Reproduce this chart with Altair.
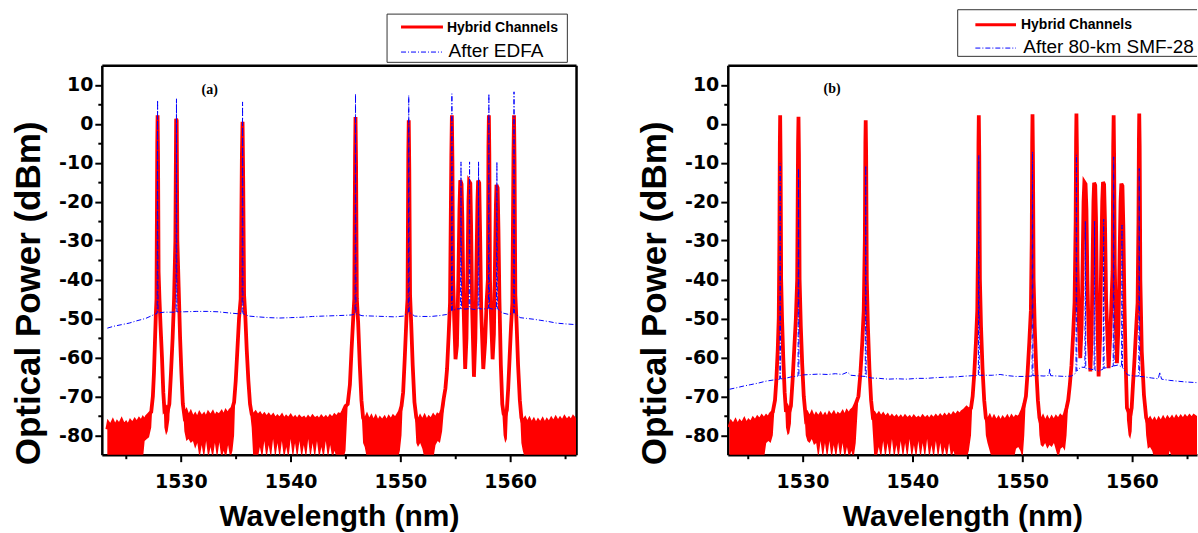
import altair as alt
import pandas as pd

# ---------------- data ----------------
# (wavelength nm, upper envelope dBm, lower envelope dBm) of the red trace, panel (a)
LEFT_RED = [
    (1523.30, -78.5, -86), (1523.40, -77.0, -86), (1523.60, -77.8, -86), (1523.80, -76.6, -86),
    (1524.00, -77.9, -86), (1524.20, -76.8, -86), (1524.40, -77.5, -86), (1524.60, -76.3, -86),
    (1524.80, -77.6, -86), (1525.00, -76.9, -86), (1525.20, -77.8, -86), (1525.40, -76.5, -86),
    (1525.60, -77.2, -86), (1525.80, -76.2, -86), (1526.00, -77.0, -86), (1526.20, -76.0, -86),
    (1526.40, -76.7, -86), (1526.55, -75.8, -86), (1526.70, -76.4, -81.5), (1526.90, -75.2, -81.0),
    (1527.10, -74.6, -80.5), (1527.30, -74.0, -78.0),
    (1527.45, -70.0, -70.0), (1527.55, -64.0, -64.0), (1527.65, -55.0, -55.0), (1527.72, -49.0, -49.0),
    (1527.78, -45.0, -45.0), (1527.85, -5.0, -5.0), (1527.88, 2.2, 2.2), (1527.92, -8.0, -8.0),
    (1527.97, -38.0, -38.0), (1528.05, -45.0, -45.0), (1528.15, -52.0, -52.0), (1528.28, -60.0, -60.0),
    (1528.40, -69.0, -69.0), (1528.50, -73.5, -78.0), (1528.65, -73.0, -80.0), (1528.80, -73.8, -79.0),
    (1528.95, -72.0, -76.0),
    (1529.10, -64.0, -64.0), (1529.25, -55.0, -55.0), (1529.38, -45.0, -45.0), (1529.50, -30.0, -30.0),
    (1529.57, 1.3, 1.3), (1529.62, 0.8, 0.8), (1529.68, -30.0, -30.0), (1529.80, -42.0, -42.0),
    (1529.93, -55.0, -55.0), (1530.05, -64.0, -64.0), (1530.18, -72.0, -72.0), (1530.32, -75.0, -79.0),
    (1530.50, -74.0, -81.5), (1530.70, -75.6, -81.0), (1530.90, -74.4, -82.0), (1531.10, -75.8, -81.5),
    (1531.30, -74.9, -83.5), (1531.50, -76.0, -82.0), (1531.70, -74.6, -86), (1531.90, -75.5, -82.5),
    (1532.10, -74.8, -86), (1532.30, -75.9, -81.5), (1532.50, -74.5, -86), (1532.70, -75.3, -83.0),
    (1532.90, -74.4, -86), (1533.10, -75.7, -82.0), (1533.30, -74.6, -86), (1533.50, -75.0, -81.8),
    (1533.70, -74.2, -86), (1533.90, -75.4, -84.0), (1534.10, -74.0, -86), (1534.30, -74.8, -82.5),
    (1534.50, -73.6, -86), (1534.70, -73.0, -84.0), (1534.85, -71.5, -80.0),
    (1535.00, -66.0, -66.0), (1535.15, -58.0, -58.0), (1535.30, -50.0, -50.0), (1535.45, -45.0, -45.0),
    (1535.56, -8.0, -8.0), (1535.62, 0.5, 0.5), (1535.68, -15.0, -15.0), (1535.76, -44.0, -44.0),
    (1535.88, -50.0, -50.0), (1536.00, -58.0, -58.0), (1536.15, -66.0, -66.0), (1536.30, -72.0, -74.0),
    (1536.45, -74.5, -78.0),
    (1536.60, -75.0, -86), (1536.80, -74.3, -86), (1537.00, -75.2, -86), (1537.20, -74.6, -83.0),
    (1537.40, -75.5, -86), (1537.60, -74.8, -81.5), (1537.80, -75.6, -86), (1538.00, -74.9, -82.5),
    (1538.20, -75.7, -86), (1538.40, -75.0, -81.0), (1538.60, -76.0, -86), (1538.80, -75.3, -82.0),
    (1539.00, -75.9, -86), (1539.20, -75.1, -81.5), (1539.40, -76.2, -86), (1539.60, -75.4, -83.0),
    (1539.80, -76.0, -86), (1540.00, -75.2, -81.0), (1540.20, -76.1, -86), (1540.40, -75.5, -82.0),
    (1540.60, -76.3, -86), (1540.80, -75.4, -81.5), (1541.00, -76.0, -86), (1541.20, -75.6, -82.5),
    (1541.40, -76.4, -86), (1541.60, -75.5, -81.0), (1541.80, -76.2, -86), (1542.00, -75.3, -82.0),
    (1542.20, -76.0, -86), (1542.40, -75.6, -81.5), (1542.60, -76.3, -86), (1542.80, -75.4, -83.0),
    (1543.00, -76.1, -86), (1543.20, -75.5, -81.5), (1543.40, -76.2, -86), (1543.60, -75.3, -82.5),
    (1543.80, -75.9, -86), (1544.00, -75.0, -84.0), (1544.20, -75.6, -86), (1544.40, -74.7, -86),
    (1544.60, -74.9, -86), (1544.80, -73.8, -86), (1545.00, -72.5, -84.0),
    (1545.20, -72.0, -72.0), (1545.40, -67.0, -67.0), (1545.55, -58.0, -58.0), (1545.70, -50.0, -50.0),
    (1545.80, -45.0, -45.0), (1545.87, -8.0, -8.0), (1545.91, 1.7, 1.7), (1545.96, -10.0, -10.0),
    (1546.03, -45.0, -45.0), (1546.15, -51.0, -51.0), (1546.30, -62.0, -62.0), (1546.45, -71.0, -73.0),
    (1546.60, -75.5, -82.0),
    (1546.75, -76.5, -83.0), (1546.95, -75.2, -86), (1547.15, -76.6, -86), (1547.35, -75.5, -86),
    (1547.55, -76.8, -86), (1547.75, -75.6, -86), (1547.95, -76.9, -86), (1548.15, -75.8, -86),
    (1548.35, -76.5, -86), (1548.55, -75.7, -86), (1548.75, -76.8, -86), (1548.95, -75.6, -86),
    (1549.15, -76.4, -86), (1549.35, -75.3, -86), (1549.55, -75.9, -86), (1549.75, -74.9, -86),
    (1549.95, -74.0, -84.0), (1550.10, -72.5, -80.0),
    (1550.25, -69.0, -69.0), (1550.40, -60.0, -60.0), (1550.55, -50.0, -50.0), (1550.65, -45.0, -45.0),
    (1550.72, -8.0, -8.0), (1550.76, 0.9, 0.9), (1550.81, -12.0, -12.0), (1550.88, -44.0, -44.0),
    (1550.98, -51.0, -51.0), (1551.12, -62.0, -62.0), (1551.28, -71.5, -73.0), (1551.45, -75.5, -82.0),
    (1551.60, -76.8, -83.0), (1551.80, -75.5, -82.0), (1552.00, -76.6, -83.5), (1552.20, -75.4, -86),
    (1552.40, -76.7, -86), (1552.60, -75.6, -86), (1552.80, -76.2, -86), (1553.00, -75.1, -86),
    (1553.20, -75.9, -82.5), (1553.40, -74.8, -81.5), (1553.60, -75.2, -82.0), (1553.80, -73.5, -79.0),
    (1553.95, -70.5, -74.0),
    (1554.10, -68.0, -68.0), (1554.25, -63.0, -63.0), (1554.40, -54.0, -54.0), (1554.52, -46.0, -46.0),
    (1554.64, -8.0, -8.0), (1554.69, 2.2, 2.2), (1554.74, -10.0, -10.0), (1554.80, -40.0, -40.0),
    (1554.90, -50.0, -50.0), (1555.02, -60.5, -60.5),
    (1555.15, -57.0, -57.0), (1555.28, -40.0, -40.0), (1555.38, -22.0, -22.0), (1555.45, -14.5, -14.5),
    (1555.57, -15.5, -15.5), (1555.64, -24.0, -24.0), (1555.74, -45.0, -45.0), (1555.90, -63.0, -63.0),
    (1556.02, -55.0, -55.0), (1556.12, -36.0, -36.0), (1556.20, -20.0, -20.0), (1556.26, -14.8, -14.8),
    (1556.37, -15.3, -15.3), (1556.44, -26.0, -26.0), (1556.54, -48.0, -48.0), (1556.70, -65.0, -65.0),
    (1556.83, -55.0, -55.0), (1556.93, -36.0, -36.0), (1557.02, -20.0, -20.0), (1557.08, -14.6, -14.6),
    (1557.18, -15.2, -15.2), (1557.26, -28.0, -28.0), (1557.36, -48.0, -48.0), (1557.55, -63.0, -63.0),
    (1557.72, -56.0, -56.0), (1557.85, -46.0, -46.0), (1557.97, -40.0, -40.0), (1558.02, -6.0, -6.0),
    (1558.06, 2.2, 2.2), (1558.10, -8.0, -8.0), (1558.16, -40.0, -40.0), (1558.26, -50.0, -50.0),
    (1558.40, -60.5, -60.5),
    (1558.52, -54.0, -54.0), (1558.62, -35.0, -35.0), (1558.70, -21.0, -21.0), (1558.75, -15.7, -15.7),
    (1558.86, -16.5, -16.5), (1558.93, -27.0, -27.0), (1559.02, -45.0, -45.0), (1559.15, -62.0, -62.0),
    (1559.28, -72.0, -74.0), (1559.40, -74.5, -80.0), (1559.55, -75.0, -82.0), (1559.70, -73.5, -81.0),
    (1559.82, -68.0, -72.0),
    (1559.95, -60.0, -60.0), (1560.08, -52.0, -52.0), (1560.20, -46.0, -46.0), (1560.30, -8.0, -8.0),
    (1560.35, 2.2, 2.2), (1560.40, -10.0, -10.0), (1560.47, -44.0, -44.0), (1560.58, -51.0, -51.0),
    (1560.72, -62.0, -62.0), (1560.88, -71.0, -73.0), (1561.02, -75.5, -82.0),
    (1561.15, -76.8, -84.0), (1561.35, -75.9, -86), (1561.55, -77.2, -86), (1561.75, -76.1, -86),
    (1561.95, -77.3, -86), (1562.15, -76.3, -86), (1562.35, -77.5, -86), (1562.55, -76.4, -86),
    (1562.75, -77.2, -86), (1562.95, -76.2, -86), (1563.15, -77.4, -86), (1563.35, -76.3, -86),
    (1563.55, -77.1, -86), (1563.75, -76.0, -86), (1563.95, -76.9, -86), (1564.15, -75.8, -86),
    (1564.35, -76.8, -86), (1564.55, -75.9, -86), (1564.75, -76.7, -86), (1564.95, -75.6, -86),
    (1565.15, -76.5, -86), (1565.35, -75.8, -86), (1565.55, -76.6, -86), (1565.75, -75.5, -86),
    (1566.00, -76.3, -86),
]

# (wavelength nm, dBm) of the blue trace "After EDFA", panel (a)
LEFT_BLUE = [
    (1523.30, -52.5), (1523.90, -52.0), (1524.60, -51.6), (1525.30, -51.2), (1526.00, -50.6),
    (1526.80, -50.0), (1527.50, -49.1), (1527.84, -48.7), (1527.88, 6.0), (1527.92, -48.6),
    (1528.50, -48.4), (1529.10, -48.4), (1529.56, -48.4), (1529.60, 6.4), (1529.64, -48.3),
    (1530.30, -48.3), (1531.40, -48.2), (1532.40, -48.2), (1533.40, -48.3), (1534.40, -48.6),
    (1535.20, -48.8), (1535.58, -48.7), (1535.62, 5.6), (1535.66, -48.8), (1536.20, -49.4),
    (1537.00, -49.6), (1538.00, -49.8), (1539.00, -49.9), (1540.00, -49.8), (1541.00, -49.7),
    (1542.00, -49.5), (1543.00, -49.4), (1544.00, -49.3), (1545.00, -49.2), (1545.60, -49.1),
    (1545.87, -48.8), (1545.91, 7.7), (1545.95, -48.8), (1546.50, -49.3), (1547.50, -49.4),
    (1548.50, -49.5), (1549.50, -49.6), (1550.30, -49.4), (1550.72, -48.4), (1550.76, 7.3),
    (1550.80, -48.4), (1551.30, -49.4), (1552.00, -49.5), (1552.80, -49.5), (1553.50, -49.3),
    (1554.20, -49.0), (1554.65, -48.0), (1554.69, 7.7), (1554.73, -48.0), (1555.10, -47.6),
    (1555.48, -47.5), (1555.52, -9.8), (1555.56, -47.5), (1555.90, -47.6), (1556.26, -47.5),
    (1556.30, -9.8), (1556.34, -47.5), (1556.70, -47.7), (1557.08, -47.5), (1557.12, -9.8),
    (1557.16, -47.5), (1557.60, -47.6), (1558.02, -47.4), (1558.06, 7.7), (1558.10, -47.4),
    (1558.40, -47.6), (1558.75, -47.5), (1558.79, -9.8), (1558.83, -47.5), (1559.30, -48.6),
    (1559.90, -49.0), (1560.31, -48.6), (1560.35, 8.2), (1560.39, -48.6), (1560.90, -49.8),
    (1561.50, -50.0), (1562.10, -50.2), (1562.80, -50.5), (1563.50, -50.8), (1564.20, -51.2),
    (1565.00, -51.4), (1566.00, -51.6),
]

# (wavelength nm, upper envelope dBm, lower envelope dBm) of the red trace, panel (b)
RIGHT_RED = [
    (1523.34, -78.0, -86), (1523.50, -76.8, -86), (1523.70, -77.6, -86), (1523.90, -76.5, -86),
    (1524.10, -77.7, -86), (1524.30, -76.6, -86), (1524.50, -77.3, -86), (1524.70, -76.2, -86),
    (1524.90, -77.4, -86), (1525.10, -76.4, -86), (1525.30, -77.0, -86), (1525.50, -75.9, -86),
    (1525.70, -76.6, -86), (1525.90, -75.6, -86), (1526.10, -76.3, -86), (1526.30, -75.3, -86),
    (1526.50, -76.0, -86), (1526.70, -75.2, -82.0), (1526.90, -75.8, -81.5), (1527.10, -74.6, -82.0),
    (1527.30, -74.0, -80.0),
    (1527.50, -71.0, -71.0), (1527.62, -66.0, -66.0), (1527.75, -58.0, -58.0), (1527.84, -50.0, -50.0),
    (1527.90, -30.0, -30.0), (1527.94, -5.0, -5.0), (1527.97, 2.2, 2.2), (1528.01, -10.0, -10.0),
    (1528.06, -40.0, -40.0), (1528.14, -50.0, -50.0), (1528.25, -60.0, -60.0), (1528.38, -69.0, -69.0),
    (1528.50, -74.0, -78.0), (1528.65, -73.0, -80.0), (1528.80, -74.0, -79.5), (1528.95, -72.5, -77.0),
    (1529.10, -66.0, -66.0), (1529.25, -58.0, -58.0), (1529.40, -50.0, -50.0), (1529.52, -40.0, -40.0),
    (1529.60, -5.0, -5.0), (1529.64, 1.8, 1.8), (1529.68, -8.0, -8.0), (1529.74, -40.0, -40.0),
    (1529.85, -52.0, -52.0), (1529.98, -62.0, -62.0), (1530.12, -70.0, -71.0), (1530.30, -75.5, -80.0),
    (1530.45, -74.6, -81.5), (1530.65, -75.8, -82.0), (1530.85, -74.5, -81.0), (1531.05, -75.9, -82.5),
    (1531.25, -74.8, -82.0), (1531.45, -75.6, -86), (1531.65, -74.7, -81.5), (1531.85, -75.8, -86),
    (1532.05, -74.9, -82.0), (1532.25, -76.0, -86), (1532.45, -74.6, -81.5), (1532.65, -75.4, -86),
    (1532.85, -74.5, -82.5), (1533.05, -75.7, -86), (1533.25, -74.7, -81.8), (1533.45, -75.2, -86),
    (1533.65, -74.3, -82.0), (1533.85, -75.5, -86), (1534.05, -74.1, -83.0), (1534.25, -74.9, -86),
    (1534.45, -73.7, -84.0), (1534.65, -73.2, -86), (1534.85, -72.0, -82.0),
    (1535.10, -70.0, -70.0), (1535.28, -64.0, -64.0), (1535.45, -56.0, -56.0), (1535.58, -48.0, -48.0),
    (1535.68, -30.0, -30.0), (1535.73, -5.0, -5.0), (1535.76, 0.9, 0.9), (1535.80, -8.0, -8.0),
    (1535.86, -40.0, -40.0), (1535.96, -52.0, -52.0), (1536.10, -63.0, -63.0), (1536.25, -71.0, -72.0),
    (1536.40, -75.0, -79.0),
    (1536.55, -74.5, -86), (1536.75, -75.4, -86), (1536.95, -74.6, -83.0), (1537.15, -75.6, -86),
    (1537.35, -74.8, -81.5), (1537.55, -75.7, -86), (1537.75, -75.0, -82.0), (1537.95, -76.0, -86),
    (1538.15, -75.2, -81.0), (1538.35, -75.9, -86), (1538.55, -75.3, -82.5), (1538.75, -76.1, -86),
    (1538.95, -75.4, -81.5), (1539.15, -76.2, -86), (1539.35, -75.3, -82.0), (1539.55, -76.0, -86),
    (1539.75, -75.5, -81.0), (1539.95, -76.3, -86), (1540.15, -75.4, -82.5), (1540.35, -76.1, -86),
    (1540.55, -75.6, -81.5), (1540.75, -76.2, -86), (1540.95, -75.3, -82.0), (1541.15, -76.0, -86),
    (1541.35, -75.5, -81.0), (1541.55, -76.3, -86), (1541.75, -75.4, -82.5), (1541.95, -76.0, -86),
    (1542.15, -75.2, -81.5), (1542.35, -75.9, -86), (1542.55, -75.1, -82.0), (1542.75, -75.8, -86),
    (1542.95, -75.0, -83.0), (1543.15, -75.7, -86), (1543.35, -74.9, -82.0), (1543.55, -75.5, -86),
    (1543.75, -74.6, -84.0), (1543.95, -75.2, -86), (1544.15, -74.4, -86), (1544.35, -74.9, -86),
    (1544.55, -74.0, -86), (1544.75, -73.6, -86), (1544.95, -73.0, -86), (1545.15, -73.5, -84.0),
    (1545.35, -73.0, -80.0),
    (1545.50, -70.0, -70.0), (1545.65, -64.0, -64.0), (1545.80, -56.0, -56.0), (1545.92, -48.0, -48.0),
    (1545.99, -30.0, -30.0), (1546.03, -5.0, -5.0), (1546.06, 2.2, 2.2), (1546.10, -8.0, -8.0),
    (1546.16, -40.0, -40.0), (1546.26, -52.0, -52.0), (1546.40, -63.0, -63.0), (1546.55, -71.0, -72.0),
    (1546.70, -75.5, -80.0),
    (1546.85, -76.5, -82.0), (1547.05, -75.4, -84.0), (1547.25, -76.8, -86), (1547.45, -75.6, -86),
    (1547.65, -76.7, -86), (1547.85, -75.8, -86), (1548.05, -76.9, -86), (1548.25, -75.7, -86),
    (1548.45, -76.4, -86), (1548.65, -75.5, -86), (1548.85, -76.6, -86), (1549.05, -75.4, -86),
    (1549.25, -76.2, -86), (1549.45, -75.3, -83.5), (1549.65, -75.6, -83.0), (1549.85, -74.8, -84.0),
    (1550.05, -73.5, -86), (1550.20, -72.0, -80.0),
    (1550.35, -70.0, -70.0), (1550.50, -64.0, -64.0), (1550.66, -56.0, -56.0), (1550.80, -48.0, -48.0),
    (1550.88, -30.0, -30.0), (1550.92, -5.0, -5.0), (1550.95, 2.4, 2.4), (1550.99, -8.0, -8.0),
    (1551.05, -40.0, -40.0), (1551.15, -52.0, -52.0), (1551.29, -63.0, -63.0), (1551.44, -71.0, -72.0),
    (1551.58, -75.5, -80.0),
    (1551.70, -76.8, -82.5), (1551.90, -75.6, -83.0), (1552.10, -77.0, -82.0), (1552.30, -75.8, -83.5),
    (1552.50, -76.9, -82.5), (1552.70, -75.7, -83.0), (1552.90, -76.6, -82.0), (1553.10, -75.5, -84.0),
    (1553.30, -76.2, -86), (1553.50, -75.2, -83.5), (1553.70, -75.8, -83.0), (1553.90, -74.6, -84.0),
    (1554.05, -73.0, -80.0),
    (1554.20, -71.0, -72.0), (1554.35, -67.0, -67.0), (1554.50, -62.0, -62.0), (1554.65, -54.0, -54.0),
    (1554.78, -46.0, -46.0), (1554.88, -25.0, -25.0), (1554.92, -4.0, -4.0), (1554.95, 2.6, 2.6),
    (1554.99, -6.0, -6.0), (1555.05, -35.0, -35.0), (1555.15, -50.0, -50.0), (1555.30, -60.2, -60.2),
    (1555.42, -52.0, -52.0), (1555.52, -35.0, -35.0), (1555.60, -20.0, -20.0), (1555.67, -15.0, -15.0),
    (1555.78, -15.5, -15.5), (1555.86, -22.0, -22.0), (1555.95, -40.0, -40.0), (1556.07, -55.0, -55.0),
    (1556.22, -63.6, -63.6),
    (1556.33, -55.0, -55.0), (1556.42, -36.0, -36.0), (1556.50, -20.0, -20.0), (1556.56, -15.2, -15.2),
    (1556.66, -15.8, -15.8), (1556.73, -24.0, -24.0), (1556.82, -45.0, -45.0), (1556.97, -64.9, -64.9),
    (1557.10, -55.0, -55.0), (1557.20, -36.0, -36.0), (1557.30, -20.0, -20.0), (1557.37, -15.0, -15.0),
    (1557.47, -15.6, -15.6), (1557.55, -25.0, -25.0), (1557.65, -45.0, -45.0), (1557.88, -62.8, -62.8),
    (1558.02, -55.0, -55.0), (1558.14, -46.0, -46.0), (1558.24, -38.0, -38.0), (1558.30, -6.0, -6.0),
    (1558.34, 2.2, 2.2), (1558.38, -8.0, -8.0), (1558.44, -36.0, -36.0), (1558.53, -50.0, -50.0),
    (1558.64, -61.5, -61.5),
    (1558.78, -52.0, -52.0), (1558.88, -34.0, -34.0), (1558.97, -20.0, -20.0), (1559.04, -15.4, -15.4),
    (1559.14, -16.0, -16.0), (1559.22, -26.0, -26.0), (1559.32, -46.0, -46.0), (1559.45, -63.0, -63.0),
    (1559.55, -73.0, -76.0), (1559.70, -74.0, -80.0), (1559.85, -75.0, -81.0), (1559.98, -73.0, -79.0),
    (1560.10, -67.0, -70.0),
    (1560.25, -60.0, -60.0), (1560.40, -52.0, -52.0), (1560.52, -46.0, -46.0), (1560.60, -25.0, -25.0),
    (1560.64, -4.0, -4.0), (1560.67, 2.6, 2.6), (1560.71, -6.0, -6.0), (1560.77, -40.0, -40.0),
    (1560.90, -58.5, -58.5), (1561.10, -69.7, -70.0), (1561.30, -75.5, -80.0),
    (1561.45, -76.8, -83.5), (1561.65, -75.9, -83.0), (1561.85, -77.0, -84.0), (1562.05, -76.1, -86),
    (1562.25, -77.2, -86), (1562.45, -76.0, -86), (1562.65, -76.9, -86), (1562.85, -75.8, -86),
    (1563.05, -76.8, -86), (1563.25, -75.7, -86), (1563.45, -76.5, -84.0), (1563.65, -75.6, -86),
    (1563.85, -76.6, -86), (1564.05, -75.5, -86), (1564.25, -76.3, -86), (1564.45, -75.4, -86),
    (1564.65, -76.2, -86), (1564.85, -75.3, -86), (1565.05, -76.0, -86), (1565.25, -75.2, -86),
    (1565.45, -75.9, -86), (1565.65, -75.1, -86), (1565.95, -75.7, -86),
]

# (wavelength nm, dBm) of the blue trace "After 80-km SMF-28", panel (b)
RIGHT_BLUE = [
    (1523.35, -68.2), (1524.00, -67.8), (1524.60, -67.4), (1525.30, -67.0), (1526.00, -66.6),
    (1526.70, -66.1), (1527.40, -65.8), (1527.93, -65.6), (1527.97, -10.2), (1528.01, -65.5),
    (1528.30, -65.5), (1529.00, -65.0), (1529.60, -64.8), (1529.64, -11.5), (1529.68, -64.7),
    (1530.10, -64.5), (1530.80, -64.4), (1531.50, -64.3), (1532.30, -64.4), (1533.00, -64.2),
    (1533.60, -64.4), (1534.10, -63.8), (1534.40, -64.6), (1535.20, -64.8), (1535.72, -64.9),
    (1535.76, -10.8), (1535.80, -65.0), (1536.30, -65.3), (1537.00, -65.4), (1537.80, -65.6),
    (1538.60, -65.5), (1539.50, -65.6), (1540.40, -65.4), (1541.30, -65.4), (1542.20, -65.2),
    (1543.10, -65.1), (1544.00, -65.0), (1544.90, -64.8), (1545.60, -64.7), (1546.02, -64.6),
    (1546.06, -8.1), (1546.10, -64.6), (1546.60, -64.6), (1547.30, -64.6), (1548.00, -64.4),
    (1548.70, -64.7), (1549.40, -64.9), (1550.10, -64.9), (1550.91, -64.8), (1550.95, -7.2),
    (1550.99, -64.7), (1551.40, -64.7), (1552.00, -64.8), (1552.45, -64.6), (1552.52, -62.9),
    (1552.60, -64.7), (1553.20, -64.8), (1553.90, -64.9), (1554.50, -64.8), (1554.91, -64.0),
    (1554.95, -8.0), (1554.99, -63.5), (1555.35, -62.5), (1555.72, -62.6), (1555.76, -25.0),
    (1555.80, -62.8), (1556.20, -63.0), (1556.56, -63.2), (1556.60, -25.0), (1556.64, -63.3),
    (1557.00, -63.5), (1557.39, -63.0), (1557.43, -24.5), (1557.47, -62.8), (1557.90, -62.5),
    (1558.30, -62.3), (1558.34, -8.5), (1558.38, -62.2), (1558.70, -62.0), (1559.06, -62.4),
    (1559.10, -26.0), (1559.14, -62.6), (1559.60, -64.5), (1560.20, -64.8), (1560.63, -64.8),
    (1560.67, -11.5), (1560.71, -64.9), (1561.10, -65.0), (1561.80, -65.3), (1562.40, -65.5),
    (1562.55, -63.8), (1562.70, -65.6), (1563.40, -65.9), (1564.10, -66.1), (1564.80, -66.3),
    (1565.93, -66.5),
]

X_TICKS = [1525, 1530, 1535, 1540, 1545, 1550, 1555, 1560, 1565]
Y_TICKS = [-80, -75, -70, -65, -60, -55, -50, -45, -40, -35, -30, -25, -20, -15, -10, -5, 0, 5, 10]
Y_DOMAIN = [-85, 15]
LEFT_X_DOMAIN = [1522.8, 1566.0]
RIGHT_X_DOMAIN = [1523.2, 1565.93]
LEGEND_A = ["Hybrid Channels", "After EDFA"]
LEGEND_B = ["Hybrid Channels", "After 80-km SMF-28"]
PANEL_LABELS = ["(a)", "(b)"]
X_TITLE = "Wavelength (nm)"
Y_TITLE = "Optical Power (dBm)"

# ---------------- styling ----------------
RED = "#ff0000"
BLUE = "#0000ff"
DASH = [5, 2, 1, 2]
LABEL_EXPR = "datum.value % 10 == 0 ? '' + datum.value : ''"
TICK_SIZE = {"condition": {"test": "datum.value % 10 != 0", "value": 4}, "value": 7}


def x_axis():
    return alt.Axis(values=X_TICKS, labelExpr=LABEL_EXPR, tickSize=TICK_SIZE, tickWidth=2,
                    tickColor="black", domainColor="black", domainWidth=2.5, grid=False,
                    labelFont="DejaVu Sans", labelFontWeight="bold", labelFontSize=19,
                    labelColor="black", labelPadding=11, labelFlush=False, labelOverlap=False,
                    title=X_TITLE, titleFont="Liberation Sans", titleFontSize=30,
                    titleFontWeight="bold", titleColor="black", titleBaseline="middle", titleY=62)


def y_axis():
    return alt.Axis(values=Y_TICKS, labelExpr=LABEL_EXPR, tickSize=TICK_SIZE, tickWidth=2,
                    tickColor="black", domainColor="black", domainWidth=2.5, grid=False,
                    labelFont="DejaVu Sans", labelFontWeight="bold", labelFontSize=19,
                    labelColor="black", labelPadding=2, labelFlush=False, labelOverlap=False,
                    title=Y_TITLE, titleFont="Liberation Sans", titleFontSize=35,
                    titleFontWeight="bold", titleColor="black", titleBaseline="middle",
                    titleX=-73, titleY=228)


def frame_axis(orient):
    return alt.Axis(orient=orient, labels=False, ticks=False, grid=False, domainColor="black",
                    domainWidth=2.5, title="")


def one(text):
    return pd.DataFrame({"t": [text]})


def panel(red_rows, blue_rows, xdom, width, legend, geo, label, full_frame):
    red_df = pd.DataFrame(red_rows, columns=["lam", "u", "l"]).sort_values("lam")
    blue_df = pd.DataFrame(blue_rows, columns=["lam", "v"]).sort_values("lam")
    xs = alt.Scale(domain=xdom, nice=False, zero=False)
    ys = alt.Scale(domain=Y_DOMAIN, nice=False, zero=False)

    area = alt.Chart(red_df).mark_area(color=RED, clip=True, opacity=1).encode(
        x=alt.X("lam:Q", scale=xs, axis=x_axis()),
        y=alt.Y("u:Q", scale=ys, axis=y_axis()),
        y2="l:Q",
    )
    line = alt.Chart(red_df).mark_line(color=RED, strokeWidth=3.8, clip=True).encode(
        x=alt.X("lam:Q", scale=xs, axis=None),
        y=alt.Y("u:Q", scale=ys, axis=None),
    )
    if full_frame:
        by = alt.Y("v:Q", scale=ys, axis=frame_axis("right"))
    else:
        by = alt.Y("v:Q", scale=ys, axis=None)
    blue = alt.Chart(blue_df).mark_line(color=BLUE, strokeWidth=1, strokeDash=DASH, clip=True).encode(
        x=alt.X("lam:Q", scale=xs, axis=frame_axis("top")),
        y=by,
    )

    bx0, bx1, by0, by1 = geo["box"]
    layers = [area, line, blue]
    layers.append(alt.Chart(one("box")).mark_rect(fill="white", strokeWidth=0).encode(
        x=alt.value(bx0), x2=alt.value(bx1), y=alt.value(by0), y2=alt.value(by1)))
    edge = dict(color="#333333", strokeWidth=1)
    layers.append(alt.Chart(one("e")).mark_rule(**edge).encode(
        x=alt.value(bx0), x2=alt.value(bx1), y=alt.value(by0)))
    layers.append(alt.Chart(one("e")).mark_rule(**edge).encode(
        x=alt.value(bx0), x2=alt.value(bx1), y=alt.value(by1)))
    layers.append(alt.Chart(one("e")).mark_rule(**edge).encode(
        x=alt.value(bx0), y=alt.value(by0), y2=alt.value(by1)))
    if full_frame:
        layers.append(alt.Chart(one("e")).mark_rule(**edge).encode(
            x=alt.value(bx1), y=alt.value(by0), y2=alt.value(by1)))

    rx0, rx1, ry = geo["red"]
    layers.append(alt.Chart(one("r")).mark_rule(color=RED, strokeWidth=3).encode(
        x=alt.value(rx0), x2=alt.value(rx1), y=alt.value(ry)))
    qx0, qx1, qy = geo["blue"]
    layers.append(alt.Chart(one("b")).mark_rule(color=BLUE, strokeWidth=1, strokeDash=DASH).encode(
        x=alt.value(qx0), x2=alt.value(qx1), y=alt.value(qy)))

    t1x, t1y = geo["t1"]
    layers.append(alt.Chart(one(legend[0])).mark_text(
        align="left", baseline="middle", font="Liberation Sans", fontWeight="bold",
        fontSize=14, color="black").encode(x=alt.value(t1x), y=alt.value(t1y), text="t:N"))
    t2x, t2y = geo["t2"]
    layers.append(alt.Chart(one(legend[1])).mark_text(
        align="left", baseline="middle", font="Liberation Sans", fontWeight="normal",
        fontSize=19, color="black").encode(x=alt.value(t2x), y=alt.value(t2y), text="t:N"))
    lx, ly = geo["label"]
    layers.append(alt.Chart(one(label)).mark_text(
        align="center", baseline="middle", font="Liberation Serif", fontWeight="bold",
        fontSize=14, color="black").encode(x=alt.value(lx), y=alt.value(ly), text="t:N"))

    return alt.layer(*layers).resolve_axis(x="independent", y="independent").properties(
        width=width, height=390)


GEO_A = {"box": (285.7, 466.3, -51.3, -3.0), "red": (299.7, 341.7, -38.3),
         "blue": (299.7, 340.7, -13.3), "t1": (345.7, -37.8), "t2": (347.3, -14.5),
         "label": (108.0, 25.0)}
GEO_B = {"box": (230.3, 470.0, -55.7, -9.0), "red": (248.0, 288.7, -40.7),
         "blue": (248.0, 288.7, -17.3), "t1": (293.7, -40.7), "t2": (296.0, -18.0),
         "label": (104.5, 24.0)}

left = panel(LEFT_RED, LEFT_BLUE, LEFT_X_DOMAIN, 475, LEGEND_A, GEO_A, PANEL_LABELS[0], True)
right = panel(RIGHT_RED, RIGHT_BLUE, RIGHT_X_DOMAIN, 470, LEGEND_B, GEO_B, PANEL_LABELS[1], False)

chart = alt.hconcat(left, right, spacing=152, bounds="flush").properties(
    padding={"left": 11, "top": 8, "right": 0, "bottom": 0},
    background="white",
).configure_view(stroke="transparent")

chart.save("out.html", embed_options={"renderer": "svg", "actions": False})
